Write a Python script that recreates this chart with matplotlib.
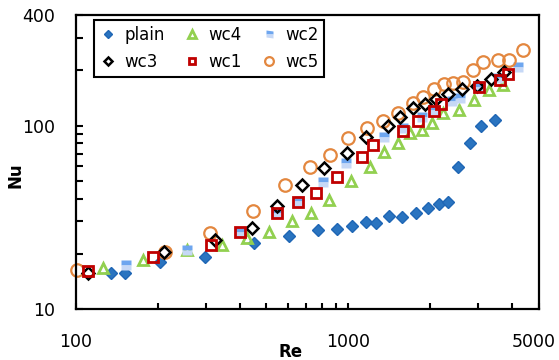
import matplotlib
matplotlib.use("Agg")
import matplotlib.pyplot as plt
from matplotlib.ticker import FixedLocator, FixedFormatter, LogLocator, NullFormatter
from matplotlib.transforms import ScaledTranslation

# values (Re, Nu)
plain_re = [134, 151, 203, 297, 450, 605, 773, 907, 1030, 1159, 1262, 1408, 1572, 1769, 1957, 2148, 2318, 2522, 2792, 3064, 3449]
plain_nu = [15.7, 15.7, 18.0, 19.2, 22.9, 25.0, 26.9, 27.3, 28.3, 29.8, 29.4, 32.1, 31.7, 33.4, 35.5, 37.3, 38.3, 59.4, 80.3, 99.4, 107]

wc4_re = [126, 176, 256, 343, 424, 511, 620, 728, 848, 1021, 1199, 1350, 1519, 1682, 1861, 2025, 2223, 2544, 2888, 3278, 3690]
wc4_nu = [16.7, 18.5, 21.0, 22.3, 24.4, 26.3, 30.2, 33.4, 39.3, 49.8, 59.4, 71.7, 80.3, 91.0, 94.5, 103.2, 117.0, 121.5, 137.7, 156.2, 166.3]

wc2_re = [153, 256, 400, 547, 658, 806, 979, 1350, 1585, 1861, 2077, 2398, 2566, 3038, 3537, 4188]
wc2_nu = [17.4, 21.0, 26.3, 33.4, 38.8, 49.2, 62.5, 86.6, 96.9, 111.3, 121.5, 136.0, 141.2, 162.1, 181.5, 208.4]

wc3_re = [111, 210, 324, 443, 547, 675, 813, 987, 1159, 1396, 1545, 1725, 1909, 2095, 2318, 2610, 2962, 3334, 3721]
wc3_nu = [15.7, 20.4, 23.8, 27.6, 36.4, 47.4, 58.7, 70.8, 86.6, 99.4, 111.3, 124.6, 131.0, 139.4, 148.5, 158.1, 164.2, 179.2, 195.7]

wc1_re = [111, 192, 313, 400, 547, 653, 760, 907, 1121, 1230, 1585, 1799, 2060, 2185, 3012, 3597, 3849]
wc1_nu = [16.1, 19.2, 22.3, 26.3, 33.4, 38.3, 42.9, 52.4, 67.4, 78.3, 93.3, 105.8, 120.0, 131.0, 162.1, 177.0, 190.8]

wc5_re = [101, 212, 310, 446, 585, 722, 856, 996, 1169, 1338, 1519, 1725, 1877, 2060, 2242, 2418, 2632, 2864, 3116, 3537, 3882, 4370]
wc5_nu = [16.3, 20.4, 26.0, 34.2, 47.4, 59.4, 69.1, 85.5, 96.9, 105.8, 117.0, 132.6, 143.0, 158.1, 168.4, 170.5, 172.7, 200.7, 221.8, 227.5, 227.5, 257.8]

x_ticks = [100, 1000, 5000]
y_ticks = [10, 100, 400]

fig = plt.figure(figsize=(5.59, 3.6), dpi=100)
ax = fig.add_axes([0.136, 0.1417, 0.828, 0.8163])

h = {}
h["plain"], = ax.plot(plain_re, plain_nu, ls="none", marker="D", ms=6, color="#2a74c0",
                      mec="#1f66b5", clip_on=False, label="plain")
h["wc4"], = ax.plot(wc4_re, wc4_nu, ls="none", marker="^", ms=7.5, mfc="none", mec="#92d050",
                    mew=2, clip_on=False, label="wc4")
# two-tone fill to mimic the blue-to-white gradient of the original squares
h["wc2"], = ax.plot(wc2_re, wc2_nu, ls="none", marker="s", ms=7.2, fillstyle="top",
                    mfc="#6ea6ef", mfcalt="#c6d8f6", mec="none", clip_on=False, label="wc2")
h["wc5"], = ax.plot(wc5_re, wc5_nu, ls="none", marker="o", ms=9, mfc="none", mec="#e3873f",
                    mew=1.6, clip_on=False, label="wc5")
h["wc3"], = ax.plot(wc3_re, wc3_nu, ls="none", marker="D", ms=6.5, mfc="none", mec="black",
                    mew=1.8, clip_on=False, label="wc3")
h["wc1"], = ax.plot(wc1_re, wc1_nu, ls="none", marker="s", ms=6.8, mfc="none", mec="#c00000",
                    mew=2, clip_on=False, label="wc1")

ax.set_xscale("log")
ax.set_yscale("log")
ax.set_xlim(100, 5000)
ax.set_ylim(10, 400)

ax.xaxis.set_major_locator(FixedLocator(x_ticks))
ax.xaxis.set_major_formatter(FixedFormatter([str(v) for v in x_ticks]))
ax.yaxis.set_major_locator(FixedLocator(y_ticks))
ax.yaxis.set_major_formatter(FixedFormatter([str(v) for v in y_ticks]))
ax.xaxis.set_minor_locator(LogLocator(base=10, subs=range(2, 10)))
ax.yaxis.set_minor_locator(LogLocator(base=10, subs=range(2, 10)))
ax.xaxis.set_minor_formatter(NullFormatter())
ax.yaxis.set_minor_formatter(NullFormatter())

ax.tick_params(axis="x", which="both", direction="in", length=4, width=1.5, pad=17, labelsize=12.5)
ax.tick_params(axis="y", which="both", direction="in", length=5, width=1.5, pad=15, labelsize=12.5)
for s in ax.spines.values():
    s.set_linewidth(1.6)

# nudge the 5000 label left so it stays inside the figure
last = ax.get_xticklabels()[-1]
last.set_transform(last.get_transform() + ScaledTranslation(-0.05, 0, fig.dpi_scale_trans))

ax.set_xlabel("Re", fontsize=12, fontweight="bold")
ax.set_ylabel("Nu", fontsize=12, fontweight="bold")
ax.xaxis.set_label_coords(0.464, -0.116)
ax.yaxis.set_label_coords(-0.112, 0.456)

order = ["plain", "wc3", "wc4", "wc1", "wc2", "wc5"]
leg = ax.legend([h[k] for k in order], order, ncol=3, loc="upper left",
                bbox_to_anchor=(0.039, 0.983), borderaxespad=0, fontsize=12,
                frameon=True, fancybox=False, edgecolor="black", framealpha=1,
                handlelength=1.0, handletextpad=0.46, columnspacing=1.15,
                labelspacing=0.55, markerscale=0.7, borderpad=0.35)
leg.get_frame().set_linewidth(1.5)

plt.savefig("out.png", dpi=100)
plt.close()
